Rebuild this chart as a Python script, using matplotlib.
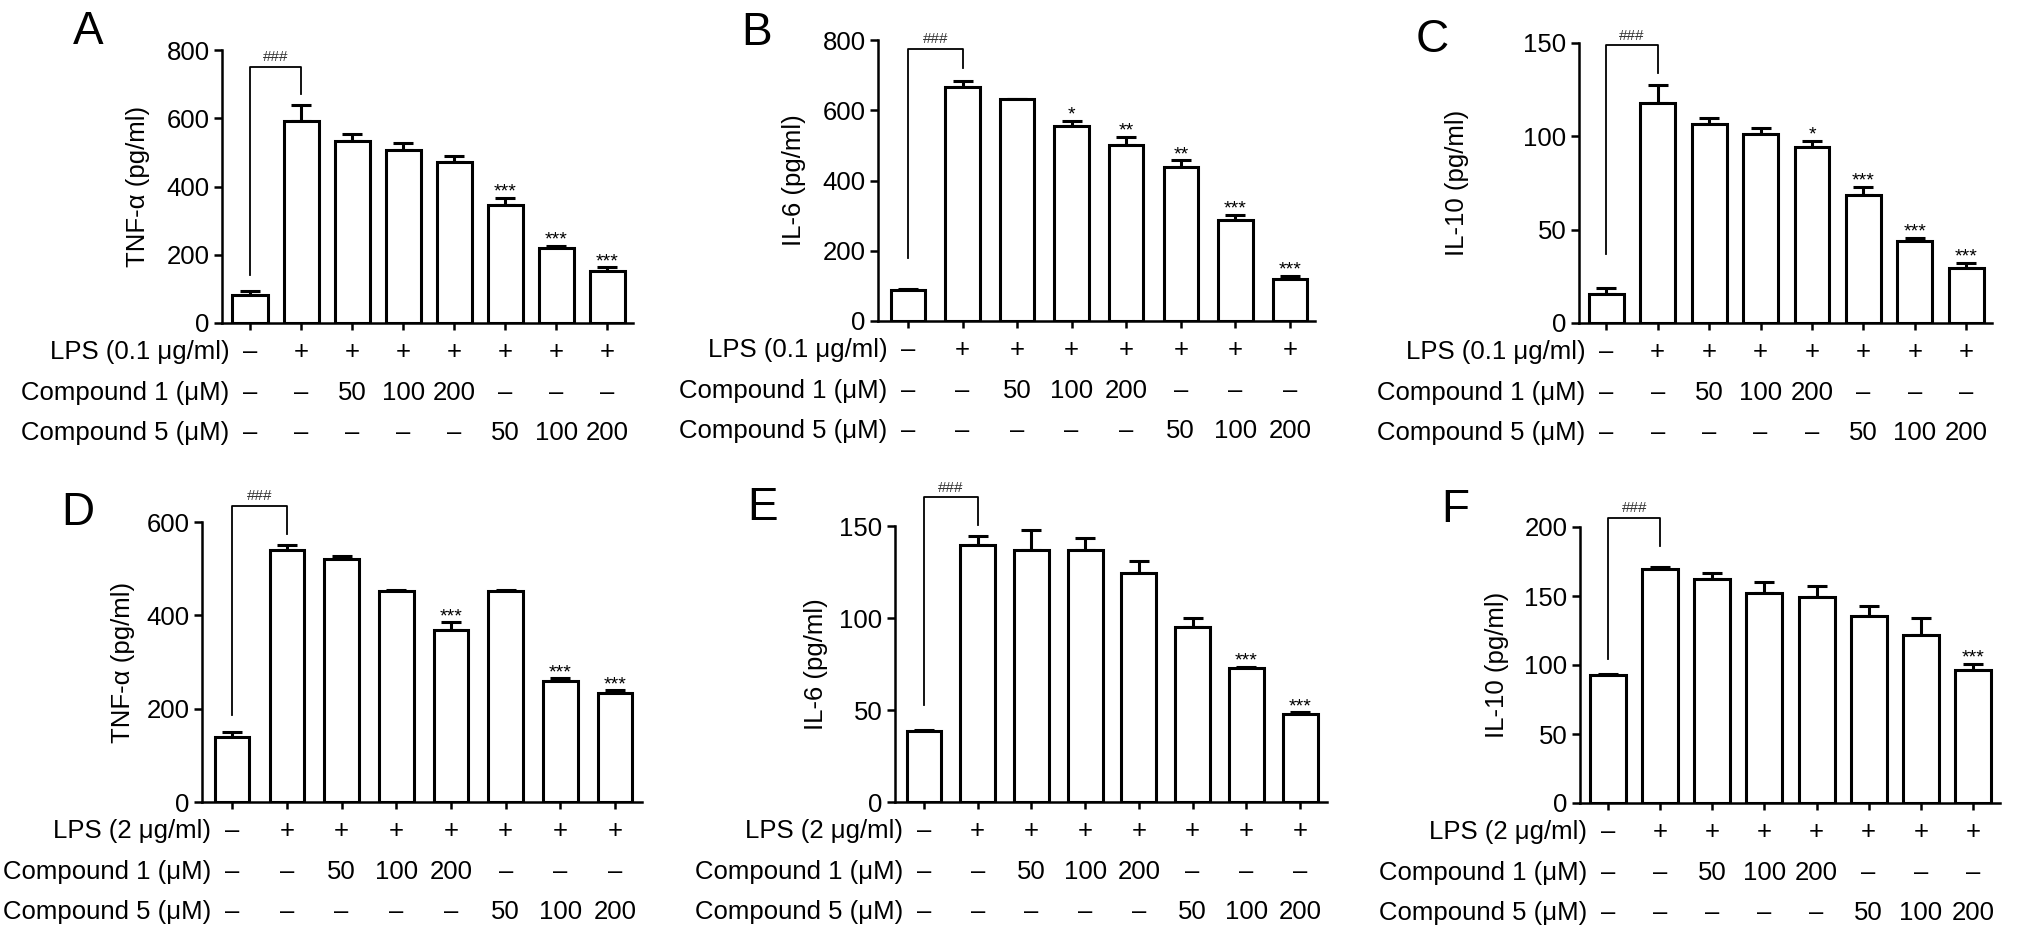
import matplotlib
matplotlib.use("Agg")
import matplotlib.pyplot as plt
import numpy as np

plt.rcParams['font.family'] = ['Liberation Sans', 'DejaVu Sans']

# ---------------------------------------------------------------
# data (mean, SEM upper bar)

panel_letters = ['A', 'B', 'C', 'D', 'E', 'F']
ylabels = ['TNF-α (pg/ml)', 'IL-6 (pg/ml)', 'IL-10 (pg/ml)',
           'TNF-α (pg/ml)', 'IL-6 (pg/ml)', 'IL-10 (pg/ml)']
lps_labels = ['LPS (0.1 μg/ml)'] * 3 + ['LPS (2 μg/ml)'] * 3
ymax = [800, 800, 150, 600, 150, 200]
ystep = [200, 200, 50, 200, 50, 50]

tnf_01 = [83, 593, 534, 507, 473, 346, 220, 151]
tnf_01_err = [12, 46, 19, 20, 15, 20, 6, 12]
il6_01 = [88, 666, 631, 555, 500, 438, 288, 119]
il6_01_err = [4, 17, 2, 14, 24, 19, 14, 9]
il10_01 = [15.8, 117.8, 106.5, 101.5, 94.5, 68.8, 43.7, 29.3]
il10_01_err = [3.2, 9.7, 3.5, 3.2, 3.0, 4.2, 2.1, 3.0]
tnf_2 = [140, 541, 520, 453, 368, 453, 260, 234]
tnf_2_err = [9, 9, 7, 1, 17, 1, 5, 5]
il6_2 = [38.4, 139.7, 137, 137, 124.7, 95.3, 72.7, 47.8]
il6_2_err = [0.9, 5.0, 10.8, 6.3, 6.3, 4.6, 0.9, 0.9]
il10_2 = [93, 169.6, 162.3, 151.9, 149.5, 135.3, 122, 96.6]
il10_2_err = [0.7, 1.4, 4.7, 8.0, 7.5, 7.2, 12.0, 4.1]

sig_a = ['', '', '', '', '', '***', '***', '***']
sig_b = ['', '', '', '*', '**', '**', '***', '***']
sig_c = ['', '', '', '', '*', '***', '***', '***']
sig_d = ['', '', '', '', '***', '', '***', '***']
sig_e = ['', '', '', '', '', '', '***', '***']
sig_f = ['', '', '', '', '', '', '', '***']

# ### bracket levels: left leg bottom, top, right leg bottom
brackets = [[141, 751, 670], [179, 775, 721], [37, 148.7, 134],
            [187, 634, 575], [52.8, 165.5, 150.5], [104, 206.5, 186.5]]

lps_row = ['–', '+', '+', '+', '+', '+', '+', '+']
cmpd1_row = ['–', '–', '50', '100', '200', '–', '–', '–']
cmpd5_row = ['–', '–', '–', '–', '–', '50', '100', '200']

means = [tnf_01, il6_01, il10_01, tnf_2, il6_2, il10_2]
errs = [tnf_01_err, il6_01_err, il10_01_err, tnf_2_err, il6_2_err, il10_2_err]
sigs = [sig_a, sig_b, sig_c, sig_d, sig_e, sig_f]

# ---------------------------------------------------------------
# layout (figure pixels): axis x, right end, y of zero, y of top
W, H = 2032, 939
boxes = [(222, 633, 323, 50), (878, 1315, 321, 40), (1579, 1992, 323, 43),
         (202, 642, 802, 522), (895, 1327, 802, 526), (1580, 2000, 803, 527)]
xlims = [(-0.55, 7.5), (-0.55, 7.46), (-0.53, 7.5),
         (-0.55, 7.49), (-0.54, 7.5), (-0.54, 7.52)]
bar_w = [0.69, 0.63, 0.68, 0.63, 0.65, 0.69]
labelpads = [12, 12, 39, 8, 8, 11]
letter_pos = [(88, 32), (757, 33), (1432, 40), (78, 513), (763, 508), (1455, 510)]

FS = 18.5
LW = 2.2

fig = plt.figure(figsize=(W / 100, H / 100), dpi=100)

for k in range(6):
    x0, x1, yb, yt = boxes[k]
    ax = fig.add_axes([x0 / W, 1 - yb / H, (x1 - x0) / W, (yb - yt) / H])
    x = np.arange(8)
    m = np.array(means[k])
    e = np.array(errs[k])

    ax.errorbar(x, m, yerr=[np.zeros(8), e], fmt='none', ecolor='black',
                elinewidth=LW, capsize=7, capthick=LW, zorder=1)
    ax.bar(x, m, width=bar_w[k], facecolor='white', edgecolor='black',
           linewidth=LW, zorder=2)

    ax.set_xlim(*xlims[k])
    ax.set_ylim(0, ymax[k])
    ax.set_yticks(np.arange(0, ymax[k] + 1, ystep[k]))
    ax.set_xticks(x)
    ax.set_xticklabels([])
    ax.tick_params(axis='y', labelsize=FS, length=6, width=1.8, pad=3)
    ax.tick_params(axis='x', length=5, width=1.8)
    for s in ['top', 'right']:
        ax.spines[s].set_visible(False)
    for s in ['left', 'bottom']:
        ax.spines[s].set_linewidth(1.8)
    ax.set_ylabel(ylabels[k], fontsize=FS, labelpad=labelpads[k])

    # significance marks
    for i in range(8):
        if sigs[k][i]:
            ax.annotate(sigs[k][i], (i, m[i] + e[i]), xytext=(0, -2),
                        textcoords='offset points', ha='center', va='bottom',
                        fontsize=14)

    # ### bracket between control and LPS
    lb, top, rb = brackets[k]
    ax.plot([0, 0, 1, 1], [lb, top, top, rb], color='black', lw=1.3,
            clip_on=False, zorder=3)
    ax.annotate('###', (0.5, top), xytext=(0, 2), textcoords='offset points',
                ha='center', va='bottom', fontsize=11, color='#333333',
                annotation_clip=False)

    # treatment rows under the axis
    rows = [(lps_labels[k], lps_row, -21), ('Compound 1 (μM)', cmpd1_row, -50.5),
            ('Compound 5 (μM)', cmpd5_row, -79)]
    for name, vals, dy in rows:
        ax.annotate(name, (0, 0), xycoords=('data', 'axes fraction'),
                    xytext=(-15, dy), textcoords='offset points',
                    ha='right', va='center', fontsize=FS, annotation_clip=False)
        for i, v in enumerate(vals):
            ax.annotate(v, (i, 0), xycoords=('data', 'axes fraction'),
                        xytext=(0, dy), textcoords='offset points',
                        ha='center', va='center', fontsize=FS,
                        annotation_clip=False)

    lx, ly = letter_pos[k]
    fig.text(lx / W, 1 - ly / H, panel_letters[k], fontsize=33,
             ha='center', va='center')

fig.savefig('out.png', dpi=100)
